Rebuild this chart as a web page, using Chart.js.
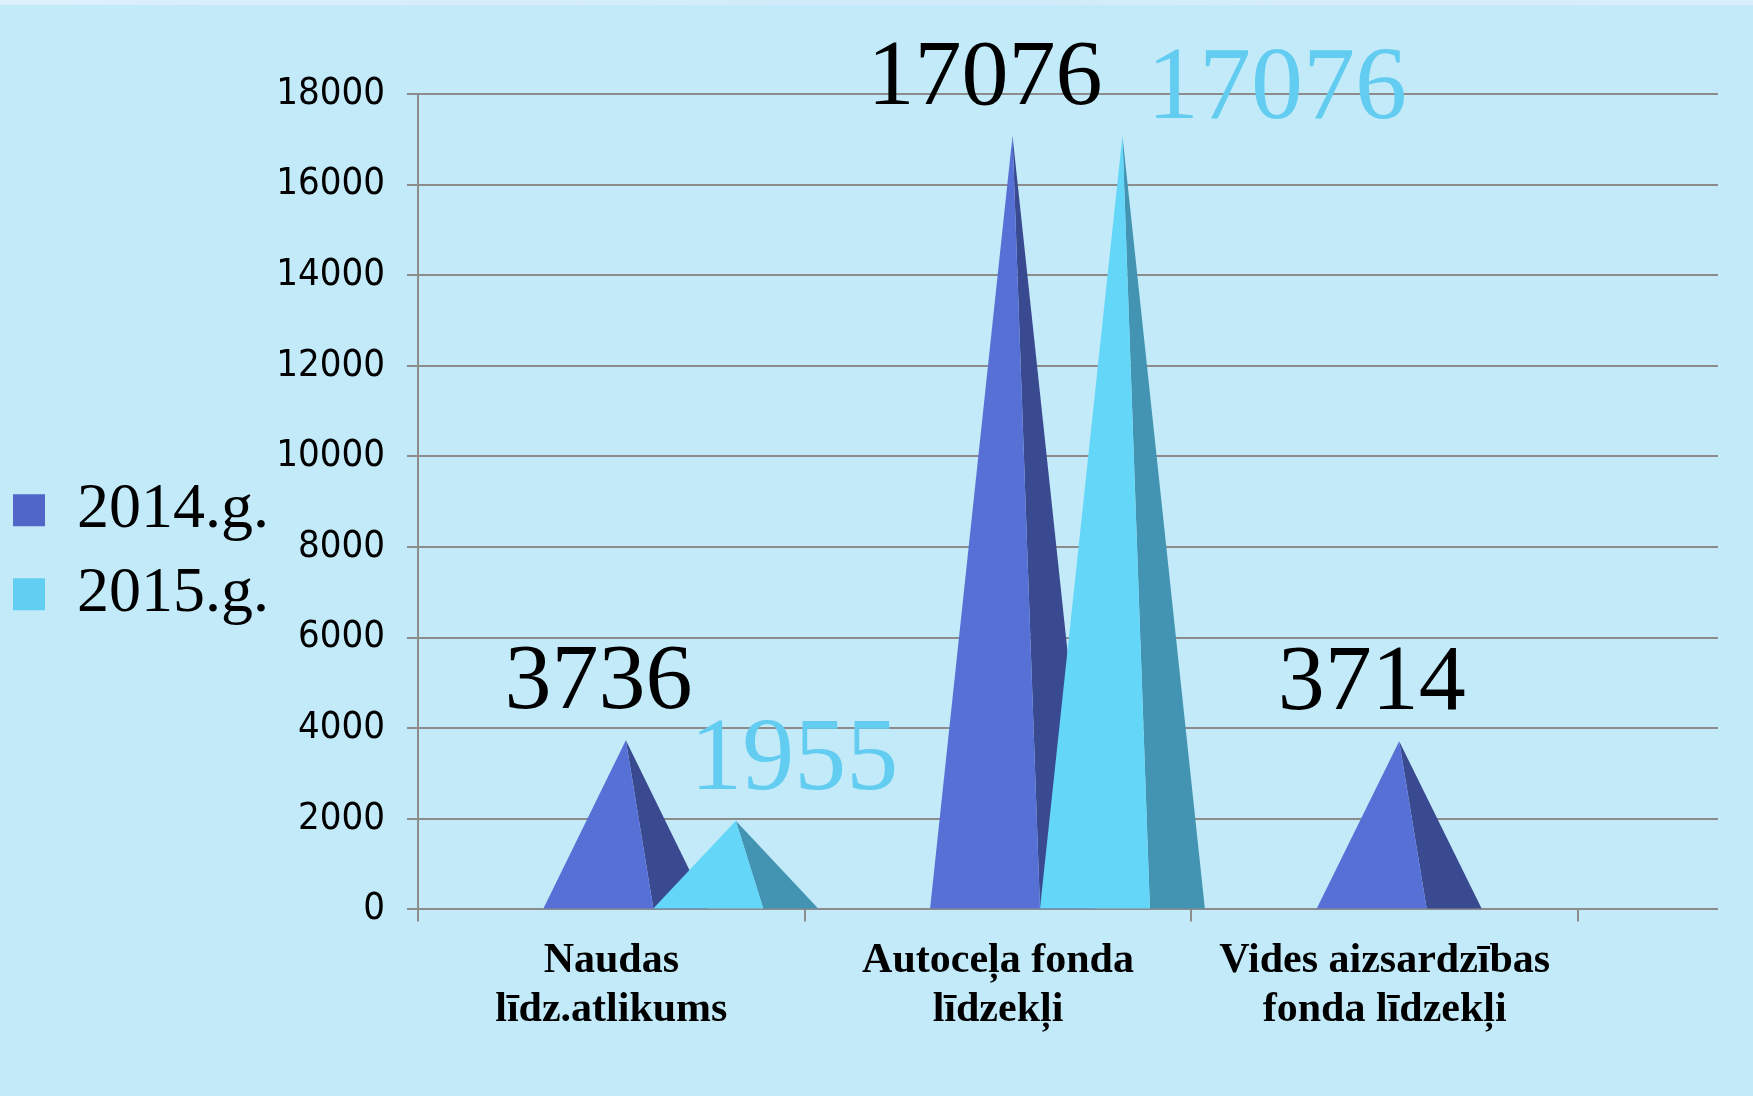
<!DOCTYPE html>
<html>
<head>
<meta charset="utf-8">
<script src="https://cdn.jsdelivr.net/npm/chart.js@4.4.0/dist/chart.umd.min.js"></script>
<style>
html, body { margin: 0; padding: 0; }
body { width: 1753px; height: 1096px; background: #c2eaf9; overflow: hidden; position: relative; }
#topStrip { position: absolute; left: 0; top: 0; width: 1753px; height: 5px; background: linear-gradient(to right, #dcf0fc, #d2eafa 50%, #d9eefc); }
#wrap { position: absolute; left: 0; top: 0; }
</style>
</head>
<body>
<div id="topStrip"></div>
<div id="wrap"><canvas id="myChart" width="1753" height="1096"></canvas></div>
<script>
// data
let categories = [['Naudas', 'līdz.atlikums'], ['Autoceļa fonda', 'līdzekļi'], ['Vides aizsardzības', 'fonda līdzekļi']];
let seriesNames = ['2014.g.', '2015.g.'];
let values2014 = [3736, 17076, 3714];
let values2015 = [1955, 17076, 0];
let yTicks = [0, 2000, 4000, 6000, 8000, 10000, 12000, 14000, 16000, 18000];

// look
const gridColor = '#8c8c8c';
const frontColors = ['#5770d6', '#64d7f9'];
const sideColors = ['#3a4a91', '#4394b2'];
const legendColors = ['#5067c8', '#62cef2'];
const labelColors = ['#000000', '#62cdf0'];
const labelSizes = [94, 104];
// hand placed value labels in the original: [dx, dy] per bar
const labelNudge = [
    [[0, 0], [0, 0], [0, 0]],
    [[86, 0], [182, 14], [0, 0]]
];
const depthShift = 42;   // 3d offset of pyramids to the right
const gridExtra = 140;   // gridlines run on past the last category

const pyramidPlugin = {
    id: 'pyramids',
    beforeDatasetDraw() {
        return false; // bars are drawn as pyramids below
    },
    beforeDatasetsDraw(chart) {
        const ctx = chart.ctx;
        const y = chart.scales.y;
        const area = chart.chartArea;
        ctx.save();
        ctx.strokeStyle = gridColor;
        ctx.lineWidth = 2;
        y.ticks.forEach(t => {
            const py = Math.round(y.getPixelForValue(t.value));
            ctx.beginPath();
            ctx.moveTo(area.right, py);
            ctx.lineTo(area.right + gridExtra, py);
            ctx.stroke();
        });
        ctx.restore();
    },
    afterDatasetsDraw(chart) {
        const ctx = chart.ctx;
        ctx.save();
        chart.data.datasets.forEach((ds, i) => {
            const meta = chart.getDatasetMeta(i);
            meta.data.forEach((bar, j) => {
                if (!ds.data[j]) return;
                const w = bar.width;
                const fl = bar.x - w / 2 + depthShift;
                const fr = fl + w;
                const sr = fl + 1.5 * w;
                const ax = fl + 0.75 * w;
                // side face
                ctx.fillStyle = sideColors[i];
                ctx.beginPath();
                ctx.moveTo(ax, bar.y);
                ctx.lineTo(fr, bar.base);
                ctx.lineTo(sr, bar.base);
                ctx.closePath();
                ctx.fill();
                // front face
                ctx.fillStyle = frontColors[i];
                ctx.beginPath();
                ctx.moveTo(ax, bar.y);
                ctx.lineTo(fl, bar.base);
                ctx.lineTo(fr, bar.base);
                ctx.closePath();
                ctx.fill();
            });
        });
        // value labels
        chart.data.datasets.forEach((ds, i) => {
            const meta = chart.getDatasetMeta(i);
            ctx.font = labelSizes[i] + 'px "Liberation Serif", "Times New Roman", serif';
            ctx.fillStyle = labelColors[i];
            ctx.textAlign = 'center';
            ctx.textBaseline = 'alphabetic';
            meta.data.forEach((bar, j) => {
                if (!ds.data[j]) return;
                const fl = bar.x - bar.width / 2 + depthShift;
                const nudge = labelNudge[i][j];
                ctx.fillText(String(ds.data[j]), fl + bar.width / 2 + nudge[0], bar.y - 32 + nudge[1]);
            });
        });
        ctx.restore();
    }
};

const ctx = document.getElementById('myChart');

new Chart(ctx, {
    type: 'bar',
    data: {
        labels: categories,
        datasets: [
            {
                label: seriesNames[0],
                data: values2014,
                backgroundColor: legendColors[0],
                borderWidth: 0
            },
            {
                label: seriesNames[1],
                data: values2015,
                backgroundColor: legendColors[1],
                borderWidth: 0
            }
        ]
    },
    options: {
        responsive: false,
        animation: false,
        devicePixelRatio: 1,
        categoryPercentage: 0.5685,
        barPercentage: 1,
        layout: {
            padding: { top: 94, right: 175, bottom: 46, left: -7 }
        },
        plugins: {
            tooltip: { enabled: false },
            legend: {
                position: 'left',
                fullSize: false,
                title: {
                    display: true,
                    text: ' ',
                    font: { size: 1, lineHeight: 1 },
                    padding: { top: 50, bottom: 50 }
                },
                labels: {
                    boxWidth: 32,
                    boxHeight: 32,
                    padding: 20,
                    color: '#000',
                    font: { family: '"Liberation Serif", "Times New Roman", serif', size: 64 }
                }
            }
        },
        scales: {
            x: {
                grid: {
                    display: true,
                    drawOnChartArea: false,
                    color: gridColor,
                    lineWidth: 2,
                    tickLength: 12
                },
                border: { color: gridColor, width: 2 },
                ticks: {
                    color: '#000',
                    padding: 16,
                    maxRotation: 0,
                    font: { family: '"Liberation Serif", "Times New Roman", serif', size: 42, weight: 'bold', lineHeight: 1.15 }
                }
            },
            y: {
                min: yTicks[0],
                max: yTicks[yTicks.length - 1],
                afterFit(scale) {
                    scale.width = 139;
                },
                grid: {
                    color: gridColor,
                    lineWidth: 2,
                    tickLength: 11
                },
                border: { color: gridColor, width: 2 },
                ticks: {
                    stepSize: yTicks[1] - yTicks[0],
                    color: '#000',
                    padding: 22,
                    callback: (value) => String(value),
                    font: { family: '"DejaVu Sans Condensed", sans-serif', size: 38 }
                }
            }
        }
    },
    plugins: [pyramidPlugin]
});
</script>
</body>
</html>
